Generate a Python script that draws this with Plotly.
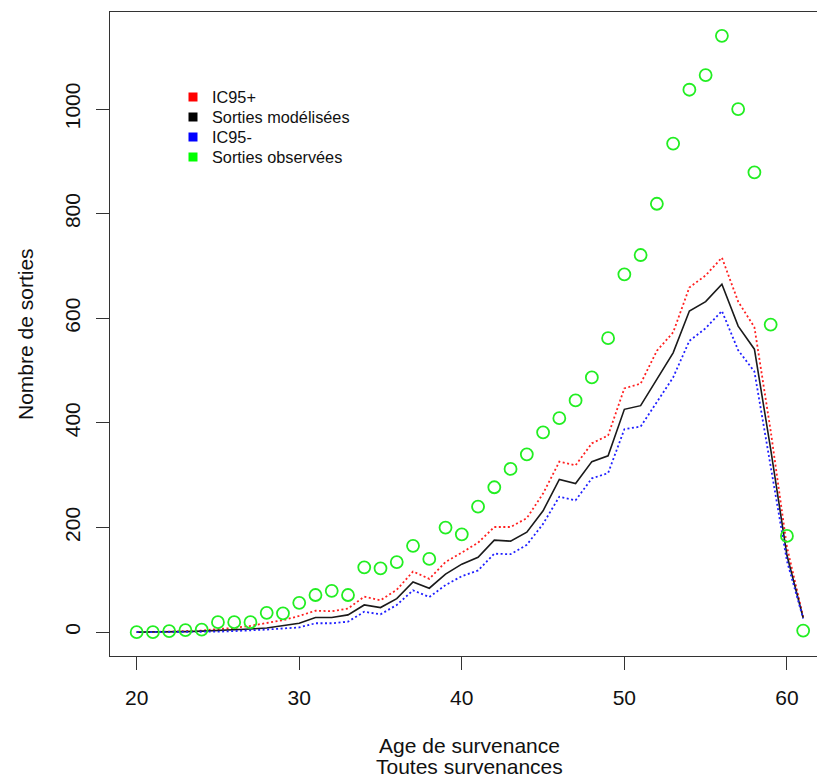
import plotly.graph_objects as go

ages = list(range(20, 62))

ic95_plus = [0, 0, 1, 2, 3, 6, 8, 12, 17, 23, 31, 41, 40, 45, 68, 61, 81, 116, 102, 134,
             152, 171, 201, 201, 218, 265, 326, 319, 361, 376, 466, 475, 538, 573, 659, 682,
             716, 632, 583, 385, 163, 29]
sorties_modelisees = [0, 0, 1, 1, 2, 3, 5, 6, 8, 12, 17, 28, 28, 33, 52, 47, 64, 96, 84, 111,
                      130, 143, 176, 174, 191, 232, 292, 284, 326, 337, 426, 433, 483, 534, 614,
                      632, 665, 585, 541, 350, 147, 27]
ic95_minus = [0, 0, 0, 0, 1, 1, 2, 3, 5, 7, 9, 17, 17, 20, 39, 34, 52, 80, 67, 90,
              107, 118, 150, 149, 167, 207, 259, 252, 294, 304, 388, 393, 440, 487, 557, 581,
              614, 539, 498, 318, 136, 26]
sorties_observees = [0, 0, 2, 4, 5, 19, 19, 19, 37, 36, 56, 71, 79, 71, 124, 122, 134, 165, 140,
                     200, 187, 240, 277, 312, 340, 382, 409, 443, 487, 562, 684, 721, 819, 934,
                     1037, 1065, 1140, 1000, 879, 588, 184, 3]

x_ticks = [20, 30, 40, 50, 60]
y_ticks = [0, 200, 400, 600, 800, 1000]
legend_names = ["IC95+", "Sorties modélisées", "IC95-", "Sorties observées"]
legend_colors = ["#FF0000", "#000000", "#0000FF", "#00FF00"]

FONT = "Liberation Sans, Arial, sans-serif"

W, H = 817, 777
ML, MT, MR, MB = 110, 12, 0, 121
PW, PH = W - ML - MR, H - MT - MB


def px_x(p):
    return (p - ML) / PW


def px_y(p):
    return (H - MB - p) / PH


fig = go.Figure()

fig.add_trace(go.Scatter(x=ages, y=ic95_plus, mode="lines", showlegend=False,
                         line=dict(color="#FF2020", width=1.8, dash="2px,2.5px")))
fig.add_trace(go.Scatter(x=ages, y=sorties_modelisees, mode="lines", showlegend=False,
                         line=dict(color="#1a1a1a", width=1.6)))
fig.add_trace(go.Scatter(x=ages, y=ic95_minus, mode="lines", showlegend=False,
                         line=dict(color="#2020FF", width=1.8, dash="2px,2.5px")))
fig.add_trace(go.Scatter(x=ages, y=sorties_observees, mode="markers", showlegend=False,
                         marker=dict(symbol="circle-open", size=12, color="#22EE22",
                                     line=dict(width=1.8, color="#22EE22"))))

# legend (drawn manually so the row spacing matches)
for i, (name, col) in enumerate(zip(legend_names, legend_colors)):
    row_y = px_y(97 + 20 * i)
    fig.add_shape(type="rect", xref="paper", yref="paper",
                  xsizemode="pixel", ysizemode="pixel",
                  xanchor=px_x(193), yanchor=row_y,
                  x0=-4.5, x1=4.5, y0=-4.5, y1=4.5,
                  fillcolor=col, line=dict(width=0))
    fig.add_annotation(text=name, xref="paper", yref="paper",
                       x=px_x(210), y=row_y, xanchor="left", yanchor="middle",
                       showarrow=False,
                       font=dict(family=FONT, size=16.3, color="#111"))

ymax = max(sorties_observees)
ypad = 0.04 * ymax
fig.update_layout(
    width=W, height=H,
    margin=dict(l=ML, r=MR, t=MT, b=MB, autoexpand=False),
    paper_bgcolor="white", plot_bgcolor="white",
    font=dict(family=FONT, size=21, color="#000000"),
    showlegend=False,
    xaxis=dict(range=[20 - 0.04 * 41, 61.85], tickvals=x_ticks, ticks="outside",
               ticklen=13, tickcolor="#333", tickwidth=1.2,
               showline=True, linecolor="#333", linewidth=1.2, mirror=True,
               showgrid=False, zeroline=False, ticklabelstandoff=10,
               tickfont=dict(family=FONT, size=21, color="#111")),
    yaxis=dict(range=[-ypad, ymax + ypad], tickvals=y_ticks, ticks="outside",
               ticklen=13, tickcolor="#333", tickwidth=1.2, tickangle=-90,
               showline=True, linecolor="#333", linewidth=1.2, mirror=False,
               showgrid=False, zeroline=False, ticklabelstandoff=8,
               tickfont=dict(family=FONT, size=21, color="#111")),
)

fig.add_annotation(text="Age de survenance", xref="x", yref="paper",
                   x=40.5, y=px_y(745), xanchor="center", yanchor="middle", showarrow=False,
                   font=dict(family=FONT, size=21, color="#111"))
fig.add_annotation(text="Toutes survenances", xref="x", yref="paper",
                   x=40.5, y=px_y(767), xanchor="center", yanchor="middle", showarrow=False,
                   font=dict(family=FONT, size=21, color="#111"))
fig.add_annotation(text="Nombre de sorties", xref="paper", yref="paper",
                   x=px_x(25), y=0.5, xanchor="center", yanchor="middle", showarrow=False,
                   textangle=-90, font=dict(family=FONT, size=21, color="#111"))

fig.write_html("out.html",
               config={"displayModeBar": False},
               post_script="document.body.style.margin='0';"
                           "document.body.style.overflow='hidden';"
                           "document.documentElement.style.overflow='hidden';")
